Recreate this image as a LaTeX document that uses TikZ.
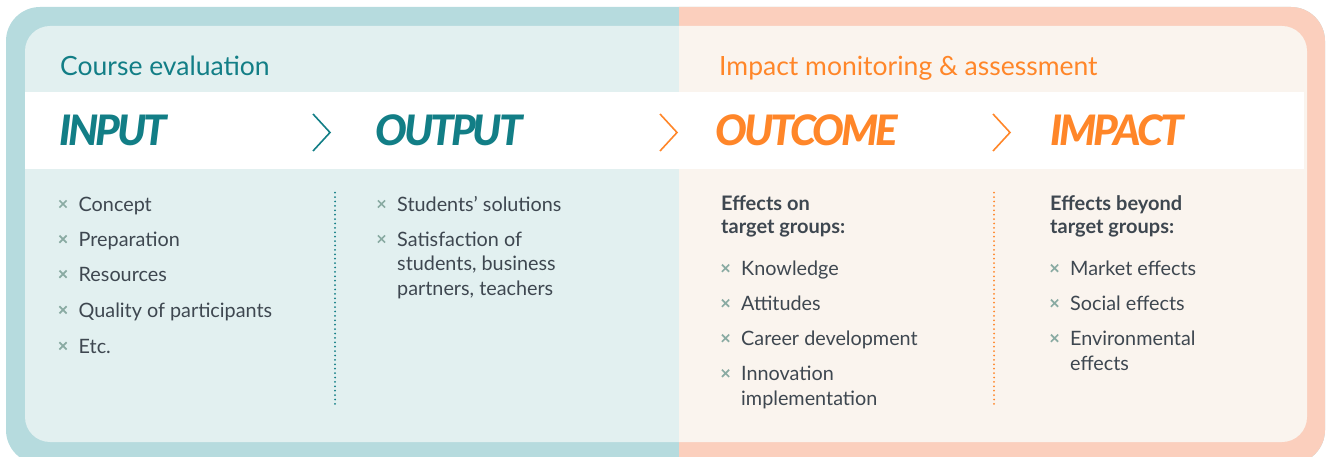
\documentclass[tikz,border=0pt]{standalone}
\usepackage{fontspec}
\setmainfont{Lato}
\newfontfamily\headfont{Lato Black Italic}[LetterSpace=-7]
\usetikzlibrary{positioning,shapes.misc}

\definecolor{tealband}{HTML}{B6DBDE}
\definecolor{tealbg}{HTML}{E2F0F0}
\definecolor{pinkband}{HTML}{FBCFBD}
\definecolor{creambg}{HTML}{FAF4EE}
\definecolor{tealtxt}{HTML}{127E86}
\definecolor{orangetxt}{HTML}{FF8629}
\definecolor{ink}{HTML}{3E4750}
\definecolor{bulletc}{HTML}{8AABA3}

\begin{document}
\begin{tikzpicture}[x=1pt, y=-1pt,
  title/.style={anchor=base west, inner sep=0pt, font=\fontsize{26.5}{30}\selectfont},
  head/.style={anchor=base west, inner sep=0pt, font=\headfont\fontsize{42}{48}\selectfont},
  item/.style={anchor=base west, inner sep=0pt, align=left, text=ink,
    font=\fontsize{19.8}{24.4}\selectfont},
  lead/.style={item, font=\bfseries\fontsize{20}{23.3}\selectfont},
  bul/.style={cross out, draw=bulletc, line width=1.7pt, inner sep=0pt, minimum size=5.5pt},
  chev/.style={line width=1.6pt},
  sep/.style={line width=2pt, line cap=round, dash pattern=on 0pt off 4.4pt}]
\useasboundingbox (0,0) rectangle (1331,457);

% background panels
\fill[tealband, rounded corners=34] (6,7) rectangle (1325,464);
\fill[tealbg, rounded corners=25] (25,26) rectangle (1307,442);
\begin{scope}
\clip (679,0) rectangle (1331,457);
\fill[pinkband, rounded corners=34] (6,7) rectangle (1325,464);
\fill[creambg, rounded corners=25] (25,26) rectangle (1307,442);
\end{scope}
\fill[white] (25,92) rectangle (1304,169);

% titles
\node[title, text=tealtxt] (ce) at (60,76) {Course evaluation};
\node[title, text=orangetxt] (im) at (719,76) {Impact monitoring \& assessment};

% headings
\node[head, text=tealtxt] (input) at (59,146) {INPUT};
\node[head, text=tealtxt] (output) at (375,146) {OUTPUT};
\node[head, text=orangetxt] (outcome) at (715,146) {OUTCOME};
\node[head, text=orangetxt] (impact) at (1050,146) {IMPACT};

\draw[chev, tealtxt] (313,114) -- (330,132.5) -- (313,151);
\draw[chev, orangetxt] (660,114) -- (677,132.5) -- (660,151);
\draw[chev, orangetxt] (993,114) -- (1010,132.5) -- (993,151);

% input
\node[item] (i1) at (78.5,211.5) {Concept};
\node[item] (i2) at (78.5,246.7) {Preparation};
\node[item] (i3) at (78.5,281.7) {Resources};
\node[item] (i4) at (78.5,317.3) {Quality of participants};
\node[item] (i5) at (78.5,353.3) {Etc.};
\node[bul] at ([xshift=-15.5pt,yshift=7.5pt]i1.base west) {};
\node[bul] at ([xshift=-15.5pt,yshift=7.5pt]i2.base west) {};
\node[bul] at ([xshift=-15.5pt,yshift=7.5pt]i3.base west) {};
\node[bul] at ([xshift=-15.5pt,yshift=7.5pt]i4.base west) {};
\node[bul] at ([xshift=-15.5pt,yshift=7.5pt]i5.base west) {};

\coordinate (s1a) at (335,192.7);
\coordinate (s1b) at (335,405);
\draw[sep, tealtxt] (s1a) -- (s1b);

% output (multi-line nodes sit on their last baseline)
\node[item] (o1) at (397,211.5) {Students’ solutions};
\node[item] (o2) at (397,295.3) {Satisfaction of\\students, business\\partners, teachers};
\node[bul] at ([xshift=-15.5pt,yshift=7.5pt]o1.base west) {};
\node[bul] at ([xshift=-15.5pt,yshift=56.3pt]o2.base west) {};

% outcome
\node[lead] (l3) at (721,234) {Effects on\\target groups:};
\node[item] (c1) at (741,275.7) {Knowledge};
\node[item] (c2) at (741,310.7) {Attitudes};
\node[item] (c3) at (741,345.7) {Career development};
\node[item] (c4) at (741,405.2) {Innovation\\implementation};
\node[bul] at ([xshift=-15.5pt,yshift=7.5pt]c1.base west) {};
\node[bul] at ([xshift=-15.5pt,yshift=7.5pt]c2.base west) {};
\node[bul] at ([xshift=-15.5pt,yshift=7.5pt]c3.base west) {};
\node[bul] at ([xshift=-15.5pt,yshift=31.9pt]c4.base west) {};

\coordinate (s2a) at (994,192.7);
\coordinate (s2b) at (994,405);
\draw[sep, orangetxt] (s2a) -- (s2b);

% impact
\node[lead] (l4) at (1050,234) {Effects beyond\\target groups:};
\node[item] (m1) at (1070,275.7) {Market effects};
\node[item] (m2) at (1070,310.7) {Social effects};
\node[item] (m3) at (1070,370.1) {Environmental\\effects};
\node[bul] at ([xshift=-15.5pt,yshift=7.5pt]m1.base west) {};
\node[bul] at ([xshift=-15.5pt,yshift=7.5pt]m2.base west) {};
\node[bul] at ([xshift=-15.5pt,yshift=31.9pt]m3.base west) {};
\end{tikzpicture}
\end{document}
